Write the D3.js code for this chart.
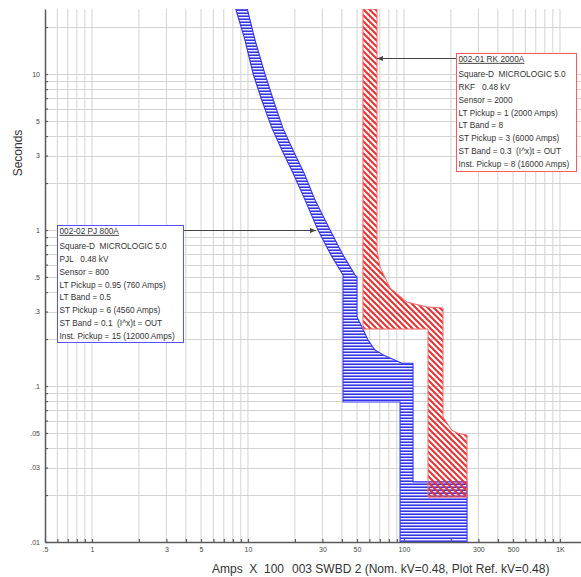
<!DOCTYPE html>
<html><head><meta charset="utf-8">
<script src="https://cdn.jsdelivr.net/npm/d3@7/dist/d3.min.js"></script>
<style>
body{margin:0;background:#fff;}
svg{display:block;font-family:"Liberation Sans",Arial,sans-serif;}
</style>
</head><body>
<svg id="chart" width="581" height="577"></svg>
<script>
// ---- axis ticks ----
const xTickValues = [0.5, 1, 3, 5, 10, 30, 50, 100, 300, 500, 1000];
const xTickLabels = [".5", "1", "3", "5", "10", "30", "50", "100", "300", "500", "1K"];
const yTickValues = [0.01, 0.03, 0.05, 0.1, 0.3, 0.5, 1, 3, 5, 10];
const yTickLabels = [".01", ".03", ".05", ".1", ".3", ".5", "1", "3", "5", "10"];

// ---- 002-02 PJ 800A band outline (Amps x100, Seconds) ----
const pjAmps = [8.35, 9.57, 10.8, 12.25, 14.2, 16.52, 19.45, 23.2, 28.1, 34.1, 40.7,
                40.7, 94.4, 94.4, 253.7, 253.7, 114.3, 114.3,
                97.1, 75.5, 65.2, 58.8, 53.8, 50, 50, 48.6,
                40.7, 33.6, 26.9, 22.87, 19.45, 16.7, 14.54, 12.85, 11.1, 9.9];
const pjSecs = [26.1, 16.5, 10, 6.81, 4.53, 3.25, 2.32, 1.56, 1, 0.69, 0.514,
                0.0789, 0.0789, 0.01, 0.01, 0.0243, 0.0243, 0.14,
                0.14, 0.156, 0.170, 0.197, 0.239, 0.277, 0.5, 0.514,
                0.69, 1, 1.56, 2.32, 3.25, 4.53, 6.81, 10, 16.5, 26.1];

// ---- 002-01 RK 2000A band outline (Amps x100, Seconds) ----
const rkAmps = [54.6, 54.6, 142.6, 142.6, 253.7, 253.7, 221.9, 202.3, 177.9,
                177.9, 140.6, 104.6, 81.4, 70.2, 67.2, 67.2];
const rkSecs = [26.1, 0.2318, 0.2318, 0.0194, 0.0194, 0.0485, 0.0497, 0.0522, 0.0633,
                0.316, 0.321, 0.345, 0.425, 0.579, 0.744, 26.1];

// ---- label boxes ----
const pjTitle = "002-02 PJ 800A";
const pjLines = ["Square-D  MICROLOGIC 5.0", "PJL   0.48 kV", "Sensor = 800",
  "LT Pickup = 0.95 (760 Amps)", "LT Band = 0.5", "ST Pickup = 6 (4560 Amps)",
  "ST Band = 0.1  (I^x)t = OUT", "Inst. Pickup = 15 (12000 Amps)"];
const rkTitle = "002-01 RK 2000A";
const rkLines = ["Square-D  MICROLOGIC 5.0", "RKF   0.48 kV", "Sensor = 2000",
  "LT Pickup = 1 (2000 Amps)", "LT Band = 8", "ST Pickup = 3 (6000 Amps)",
  "ST Band = 0.3  (I^x)t = OUT", "Inst. Pickup = 8 (16000 Amps)"];
const pjPointer = [27.3, 1];      // arrow tip (Amps x100, s)
const rkPointer = [67.2, 12.66];

const xTitle1 = "Amps  X  100";
const xTitle2 = "003 SWBD 2 (Nom. kV=0.48, Plot Ref. kV=0.48)";
const yTitle = "Seconds";

// ---- layout ----
const L = 45, R = 581, T = 9, B = 542;
const x = d3.scaleLog().domain([0.5, 0.5 * Math.pow(10, (R - L) / 156)]).range([L, R]);
const y = d3.scaleLog().domain([0.01, 10 * Math.pow(10, (74 - T) / 156)]).range([B, T]);

const svg = d3.select("#chart");
const defs = svg.append("defs");
defs.append("clipPath").attr("id", "plotClip").append("rect")
  .attr("x", L).attr("y", T).attr("width", R - L).attr("height", B - T);

const pb = defs.append("pattern").attr("id", "hatchBlue").attr("patternUnits", "userSpaceOnUse")
  .attr("width", 6).attr("height", 3);
pb.append("rect").attr("x", 0).attr("y", 0).attr("width", 6).attr("height", 3).attr("fill", "#eef0ff");
pb.append("rect").attr("x", 0).attr("y", 0.5).attr("width", 6).attr("height", 1.4).attr("fill", "#1f1fe0");

const pr = defs.append("pattern").attr("id", "hatchRed").attr("patternUnits", "userSpaceOnUse")
  .attr("width", 6).attr("height", 6);
pr.append("path").attr("d", "M-1,-1L7,7M-1,5L1,7M5,-1L7,1")
  .attr("stroke", "#ea3030").attr("stroke-width", 2).attr("fill", "none");

defs.append("marker").attr("id", "arrow").attr("viewBox", "0 0 10 10")
  .attr("refX", 10).attr("refY", 5).attr("markerWidth", 6).attr("markerHeight", 6)
  .attr("markerUnits", "userSpaceOnUse").attr("orient", "auto")
  .append("path").attr("d", "M0,1L10,5L0,9Z").attr("fill", "#444");

// ---- grid ----
const gridX = [], gridY = [];
for (let k = -1; k <= 3; k++) for (let m = 1; m <= 9; m++) {
  const v = m * Math.pow(10, k);
  if (v > 0.5 && v <= x.domain()[1]) gridX.push(v);
}
for (let k = -2; k <= 1; k++) for (let m = 1; m <= 9; m++) {
  const v = m * Math.pow(10, k);
  if (v > 0.01 && v <= y.domain()[1]) gridY.push(v);
}
const grid = svg.append("g").attr("clip-path", "url(#plotClip)");
grid.selectAll("line.gx").data(gridX).join("line")
  .attr("x1", d => x(d)).attr("x2", d => x(d)).attr("y1", T).attr("y2", B)
  .attr("stroke", "#d3d3d3").attr("stroke-width", 1);
grid.selectAll("line.gy").data(gridY).join("line")
  .attr("x1", L).attr("x2", R).attr("y1", d => Math.round(y(d)) + 0.5).attr("y2", d => Math.round(y(d)) + 0.5)
  .attr("stroke", "#d3d3d3").attr("stroke-width", 1);

// ---- bands ----
const line = d3.line().x(d => x(d[0])).y(d => y(d[1]));
const pjPts = pjAmps.map((a, i) => [a, pjSecs[i]]);
const rkPts = rkAmps.map((a, i) => [a, rkSecs[i]]);
const bands = svg.append("g").attr("clip-path", "url(#plotClip)");
bands.append("path").attr("d", line(pjPts) + "Z")
  .attr("fill", "url(#hatchBlue)").attr("stroke", "#3434ff").attr("stroke-width", 1.1);
bands.append("path").attr("d", line(rkPts) + "Z")
  .attr("fill", "url(#hatchRed)").attr("stroke", "#ff6464").attr("stroke-width", 1);

// ---- axes ----
const xFmt = d => { const i = xTickValues.indexOf(d); return i >= 0 ? xTickLabels[i] : ""; };
const yFmt = d => { const i = yTickValues.findIndex(v => Math.abs(v - d) / v < 1e-6); return i >= 0 ? yTickLabels[i] : ""; };
const xAxisVals = [0.5].concat(gridX);
const yAxisVals = [0.01].concat(gridY);

const gx = svg.append("g").attr("transform", `translate(0,${B})`)
  .call(d3.axisBottom(x).tickValues(xAxisVals).tickFormat(xFmt).tickSizeInner(-3).tickSizeOuter(0).tickPadding(5));
const gy = svg.append("g").attr("transform", `translate(${L},0)`)
  .call(d3.axisLeft(y).tickValues(yAxisVals).tickFormat(yFmt).tickSizeInner(-3).tickSizeOuter(0).tickPadding(5));
[gx, gy].forEach(g => {
  g.select(".domain").attr("stroke", "#5a5a5a").attr("stroke-width", 1.5);
  g.selectAll(".tick line").attr("stroke", "#5a5a5a").attr("stroke-width", 1.2);
  g.selectAll(".tick text").attr("fill", "#444").attr("font-size", 7)
    .attr("font-family", "'Liberation Sans', Arial, sans-serif");
});

// ---- axis titles ----
svg.append("text").attr("x", 212).attr("y", 573).attr("font-size", 12).attr("fill", "#333")
  .attr("xml:space", "preserve").style("white-space", "pre").text(xTitle1);
svg.append("text").attr("x", 292).attr("y", 573).attr("font-size", 12).attr("fill", "#333").text(xTitle2);
svg.append("text").attr("transform", "translate(22,153) rotate(-90)").attr("text-anchor", "middle")
  .attr("font-size", 12).attr("fill", "#333").text(yTitle);

// ---- label boxes with leaders ----
function labelBox(bx, by, bw, bh, color, title, lines, pointer, leaderFromRight) {
  const ly = by + 5.5;
  const lx = leaderFromRight ? bx + bw : bx;
  svg.append("line").attr("x1", lx).attr("y1", ly).attr("x2", x(pointer[0])).attr("y2", ly)
    .attr("stroke", "#444").attr("stroke-width", 1).attr("marker-end", "url(#arrow)");
  svg.append("rect").attr("x", bx + 0.5).attr("y", by + 0.5).attr("width", bw).attr("height", bh)
    .attr("fill", "#fff").attr("stroke", color).attr("stroke-width", 1);
  const g = svg.append("g").attr("fill", "#333").attr("font-size", 9.2);
  g.append("text").attr("transform", `translate(${bx + 2.5},${by + 8.8}) scale(0.9,1)`)
    .attr("text-decoration", "underline").text(title);
  lines.forEach((t, i) => {
    g.append("text").attr("transform", `translate(${bx + 2.5},${by + 24.3 + i * 12.75}) scale(0.9,1)`)
      .attr("xml:space", "preserve").style("white-space", "pre").text(t);
  });
}
labelBox(57, 225, 126, 117, "#5555ff", pjTitle, pjLines, pjPointer, true);
labelBox(456, 53, 120, 118, "#ff5a5a", rkTitle, rkLines, rkPointer, false);
</script>
</body></html>
